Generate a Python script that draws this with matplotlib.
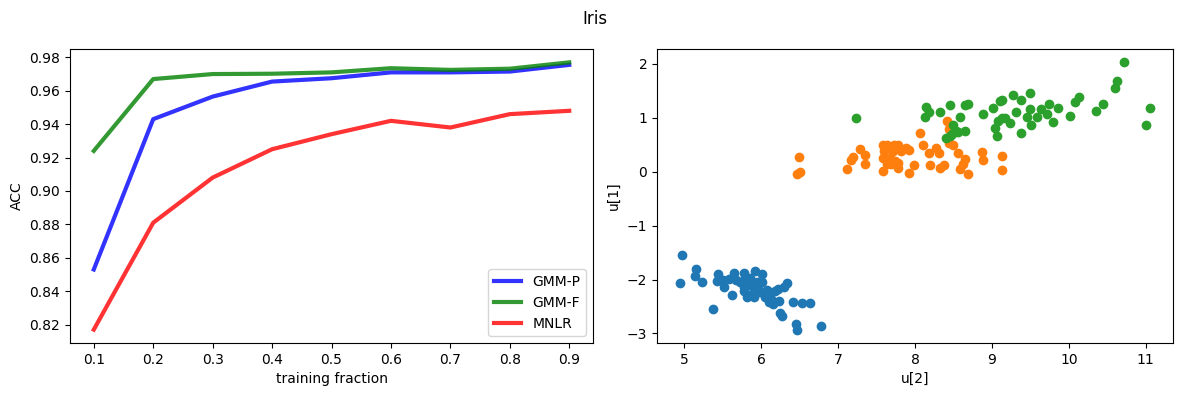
import numpy as np
import matplotlib
matplotlib.use("Agg")
import matplotlib.pyplot as plt

# accuracy vs training fraction
fractions = [0.1, 0.2, 0.3, 0.4, 0.5, 0.6, 0.7, 0.8, 0.9]
acc_gmm_p = [0.853, 0.943, 0.9565, 0.9655, 0.9675, 0.971, 0.971, 0.9715, 0.9755]
acc_gmm_f = [0.924, 0.967, 0.970, 0.9702, 0.971, 0.9735, 0.9725, 0.9732, 0.977]
acc_mnlr = [0.817, 0.881, 0.908, 0.925, 0.934, 0.942, 0.938, 0.946, 0.948]

# projected points (u[2], u[1]) per class
setosa_u2 = [4.97, 4.95, 5.15, 5.14, 5.23, 5.37, 5.44, 5.42, 5.50, 5.51,
             5.58, 5.64, 5.62, 5.67, 5.73, 5.77, 5.78, 5.77, 5.83, 5.81,
             5.86, 5.90, 5.92, 5.91, 5.95, 5.99, 6.01, 6.01, 6.05, 6.08,
             6.10, 6.13, 6.15, 6.18, 6.22, 6.23, 6.24, 6.27, 6.29, 6.33,
             6.41, 6.45, 6.47, 6.53, 6.64, 6.78, 5.96, 5.86, 6.07, 5.78]
setosa_u1 = [-1.55, -2.07, -1.81, -1.94, -2.05, -2.54, -1.90, -2.03, -2.00, -2.13,
             -1.99, -1.88, -2.28, -2.00, -2.05, -1.88, -2.13, -2.22, -2.29, -2.33,
             -1.98, -2.33, -1.85, -2.16, -2.05, -2.24, -1.90, -2.05, -2.33, -2.29,
             -2.41, -2.37, -2.46, -2.22, -2.18, -2.39, -2.63, -2.67, -2.13, -2.07,
             -2.41, -2.82, -2.93, -2.43, -2.43, -2.87, -2.12, -2.10, -2.20, -2.00]

versicolor_u2 = [6.49, 6.47, 6.51, 7.19, 7.17, 7.12, 7.28, 7.35, 7.35, 7.59,
                 7.59, 7.63, 7.59, 7.73, 8.06, 7.78, 7.88, 7.92, 8.10, 8.18,
                 8.27, 8.31, 8.42, 8.44, 8.44, 8.56, 8.65, 8.63, 8.59, 8.69,
                 8.33, 8.38, 8.19, 7.99, 7.92, 7.78, 7.69, 7.78, 8.87, 8.88,
                 9.13, 9.13, 7.63, 7.71, 7.67, 7.64, 7.74, 7.60, 7.82, 8.50]
versicolor_u1 = [0.28, -0.04, 0.00, 0.28, 0.21, 0.06, 0.43, 0.32, 0.15, 0.50,
                 0.26, 0.15, 0.02, 0.49, 0.71, 0.49, 0.45, 0.41, 0.49, 0.35,
                 0.45, 0.34, 0.95, 0.80, 0.54, 0.35, 0.24, 0.15, 0.06, -0.04,
                 0.07, 0.13, 0.13, 0.13, -0.02, 0.17, 0.15, 0.07, 0.37, 0.21,
                 0.30, 0.04, 0.49, 0.39, 0.26, 0.20, 0.20, 0.39, 0.39, 0.49]

virginica_u2 = [7.23, 8.14, 8.18, 8.13, 8.33, 8.45, 8.58, 8.50, 8.53, 8.46,
                8.56, 8.65, 8.65, 8.88, 9.04, 9.06, 9.13, 9.23, 8.69, 9.01,
                9.10, 9.13, 9.27, 9.38, 9.50, 9.31, 9.50, 9.45, 9.51, 9.58,
                9.64, 9.74, 9.72, 9.79, 9.86, 10.01, 10.08, 10.13, 10.35, 10.45,
                10.60, 10.63, 10.72, 11.05, 11.00, 9.17, 9.38, 9.08, 8.48, 8.40]
virginica_u1 = [0.99, 1.21, 1.10, 1.01, 1.10, 1.23, 1.01, 0.86, 0.76, 0.67,
                0.73, 1.23, 0.76, 1.08, 0.82, 0.67, 0.99, 0.90, 1.25, 1.18,
                1.32, 1.34, 1.42, 1.34, 1.47, 1.10, 1.16, 1.01, 0.86, 1.01,
                1.16, 1.25, 1.08, 0.93, 1.19, 1.03, 1.29, 1.38, 1.12, 1.25,
                1.55, 1.68, 2.03, 1.19, 0.86, 0.99, 0.71, 0.95, 0.70, 0.62]

W, H = 1189, 396
fig, (ax1, ax2) = plt.subplots(1, 2, figsize=(W / 100, H / 100), dpi=100)
fig.suptitle("Iris", y=0.975)

ax1.plot(fractions, acc_gmm_p, color="blue", alpha=0.8, lw=3, label="GMM-P")
ax1.plot(fractions, acc_gmm_f, color="green", alpha=0.8, lw=3, label="GMM-F")
ax1.plot(fractions, acc_mnlr, color="red", alpha=0.8, lw=3, label="MNLR")
ax1.set_xticks(fractions)
ax1.set_xlabel("training fraction")
ax1.set_ylabel("ACC")
ax1.legend(loc="lower right")

ax2.scatter(setosa_u2, setosa_u1)
ax2.scatter(versicolor_u2, versicolor_u1)
ax2.scatter(virginica_u2, virginica_u1)
ax2.set_xlabel("u[2]")
ax2.set_ylabel("u[1]")

bottom, top = 1 - 343 / H, 1 - 49 / H
ax1.set_position([70 / W, bottom, (593 - 70) / W, top - bottom])
ax2.set_position([657 / W, bottom, (1173 - 657) / W, top - bottom])

fig.savefig("out.png")
